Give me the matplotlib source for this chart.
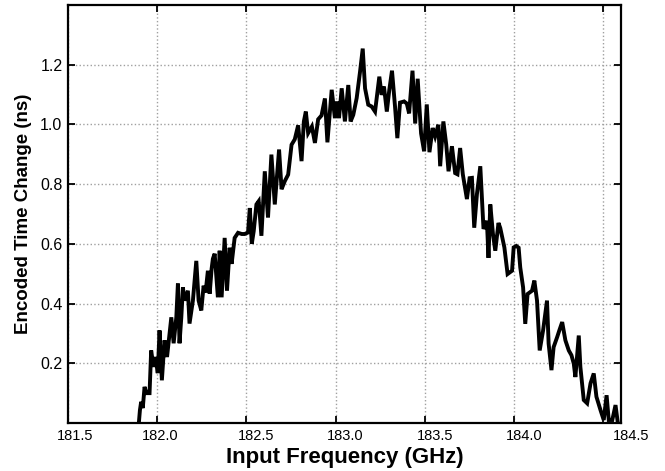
import matplotlib
matplotlib.use("Agg")
import matplotlib.pyplot as plt
import matplotlib.transforms as mtransforms

# traced measurement: encoded time change vs input frequency
freq_ghz = [
    181.897, 181.903, 181.910, 181.919, 181.929, 181.940, 181.957, 181.966,
    181.979, 181.990, 182.003, 182.013, 182.026, 182.041, 182.055, 182.069,
    182.079, 182.092, 182.107, 182.116, 182.125, 182.135, 182.144, 182.153,
    182.172, 182.181, 182.200, 182.219, 182.232, 182.247, 182.260, 182.271,
    182.284, 182.294, 182.305, 182.312, 182.322, 182.340, 182.350, 182.361,
    182.378, 182.391, 182.406, 182.417, 182.434, 182.453, 182.474, 182.490,
    182.509, 182.519, 182.530, 182.541, 182.556, 182.569, 182.584, 182.603,
    182.621, 182.640, 182.659, 182.683, 182.697, 182.715, 182.734, 182.753,
    182.771, 182.790, 182.809, 182.822, 182.833, 182.846, 182.867, 182.884,
    182.902, 182.921, 182.940, 182.954, 182.978, 182.996, 183.007, 183.019,
    183.034, 183.052, 183.071, 183.084, 183.099, 183.118, 183.137, 183.152,
    183.165, 183.183, 183.202, 183.221, 183.245, 183.258, 183.271, 183.287,
    183.301, 183.316, 183.333, 183.346, 183.361, 183.384, 183.399, 183.412,
    183.431, 183.446, 183.460, 183.479, 183.496, 183.511, 183.526, 183.544,
    183.558, 183.576, 183.586, 183.604, 183.620, 183.633, 183.652, 183.670,
    183.683, 183.698, 183.713, 183.736, 183.751, 183.764, 183.777, 183.792,
    183.811, 183.829, 183.848, 183.857, 183.867, 183.882, 183.895, 183.913,
    183.923, 183.946, 183.964, 183.989, 183.998, 184.013, 184.026, 184.035,
    184.051, 184.063, 184.076, 184.101, 184.114, 184.129, 184.144, 184.163,
    184.185, 184.194, 184.210, 184.222, 184.242, 184.254, 184.270, 184.288,
    184.307, 184.322, 184.335, 184.344, 184.363, 184.372, 184.391, 184.410,
    184.429, 184.447, 184.462, 184.485, 184.503, 184.519, 184.531, 184.551,
    184.569, 184.582,
]
delay_ns = [
    0.000, 0.043, 0.071, 0.050, 0.121, 0.100, 0.100, 0.243,
    0.188, 0.221, 0.167, 0.310, 0.143, 0.277, 0.221, 0.300,
    0.354, 0.267, 0.354, 0.467, 0.267, 0.354, 0.454, 0.410,
    0.443, 0.333, 0.410, 0.543, 0.410, 0.377, 0.460, 0.437,
    0.510, 0.433, 0.517, 0.550, 0.567, 0.421, 0.577, 0.421,
    0.620, 0.443, 0.587, 0.533, 0.620, 0.637, 0.633, 0.633,
    0.638, 0.720, 0.600, 0.643, 0.732, 0.743, 0.627, 0.843,
    0.688, 0.899, 0.732, 0.916, 0.783, 0.810, 0.832, 0.932,
    0.950, 0.997, 0.877, 1.010, 1.043, 0.971, 0.993, 0.938,
    1.017, 1.030, 1.087, 0.940, 1.116, 1.021, 1.077, 1.021,
    1.121, 1.010, 1.132, 1.010, 1.032, 1.088, 1.177, 1.254,
    1.121, 1.066, 1.060, 1.043, 1.160, 1.099, 1.127, 1.043,
    1.116, 1.180, 1.060, 0.954, 1.073, 1.077, 1.070, 1.037,
    1.180, 1.003, 1.153, 0.970, 0.910, 1.067, 0.907, 0.988,
    0.960, 0.999, 0.860, 1.010, 0.933, 0.843, 0.927, 0.837,
    0.833, 0.921, 0.833, 0.750, 0.820, 0.821, 0.654, 0.766,
    0.860, 0.650, 0.677, 0.553, 0.732, 0.633, 0.577, 0.670,
    0.653, 0.588, 0.499, 0.510, 0.588, 0.593, 0.587, 0.521,
    0.454, 0.332, 0.432, 0.443, 0.477, 0.410, 0.243, 0.310,
    0.410, 0.266, 0.177, 0.254, 0.288, 0.310, 0.338, 0.277,
    0.243, 0.227, 0.199, 0.154, 0.293, 0.188, 0.077, 0.066,
    0.133, 0.166, 0.088, 0.043, 0.010, 0.093, 0.010, 0.010,
    0.060, 0.000,
]

x_ticks = [181.5, 182.0, 182.5, 183.0, 183.5, 184.0, 184.5]
x_tick_labels = ["181.5", "182.0", "182.5", "183.0", "183.5", "184.0", "184.5"]
y_ticks = [0.2, 0.4, 0.6, 0.8, 1.0, 1.2]
y_tick_labels = ["0.2", "0.4", "0.6", "0.8", "1.0", "1.2"]

# the exported figure has its x tick labels nudged right (pixels)
label_nudge_px = [7, 3, 10, 10, 10, 10, 28]

plt.rcParams["font.family"] = ["Liberation Sans", "DejaVu Sans"]

fig = plt.figure(figsize=(6.65, 4.71), dpi=100)
ax = fig.add_axes([0.1023, 0.1019, 0.8316, 0.8875])

ax.plot(freq_ghz, delay_ns, color="black", linewidth=2.8, solid_joinstyle="miter")

ax.set_xlim(181.5, 184.6)
ax.set_ylim(0, 1.4)
ax.set_xticks(x_ticks)
ax.set_xticklabels(x_tick_labels)
ax.set_yticks(y_ticks)
ax.set_yticklabels(y_tick_labels)
ax.grid(True, linestyle=":", color="#a0a0a0", linewidth=1.0)
ax.tick_params(direction="in", top=True, right=True, length=5, width=1.3, pad=4)
ax.tick_params(axis="x", labelsize=10.5)
ax.tick_params(axis="y", labelsize=11.5)

for lab, dx in zip(ax.get_xticklabels(), label_nudge_px):
    lab.set_transform(lab.get_transform()
                      + mtransforms.ScaledTranslation(dx / 100, 0, fig.dpi_scale_trans))

for side in ax.spines.values():
    side.set_linewidth(1.6)
    side.set_color("black")

ax.set_xlabel("Input Frequency (GHz)", fontsize=16, fontweight="bold", labelpad=3)
ax.set_ylabel("Encoded Time Change (ns)", fontsize=13.5, fontweight="bold", labelpad=6)

fig.savefig("out.png", dpi=100)
